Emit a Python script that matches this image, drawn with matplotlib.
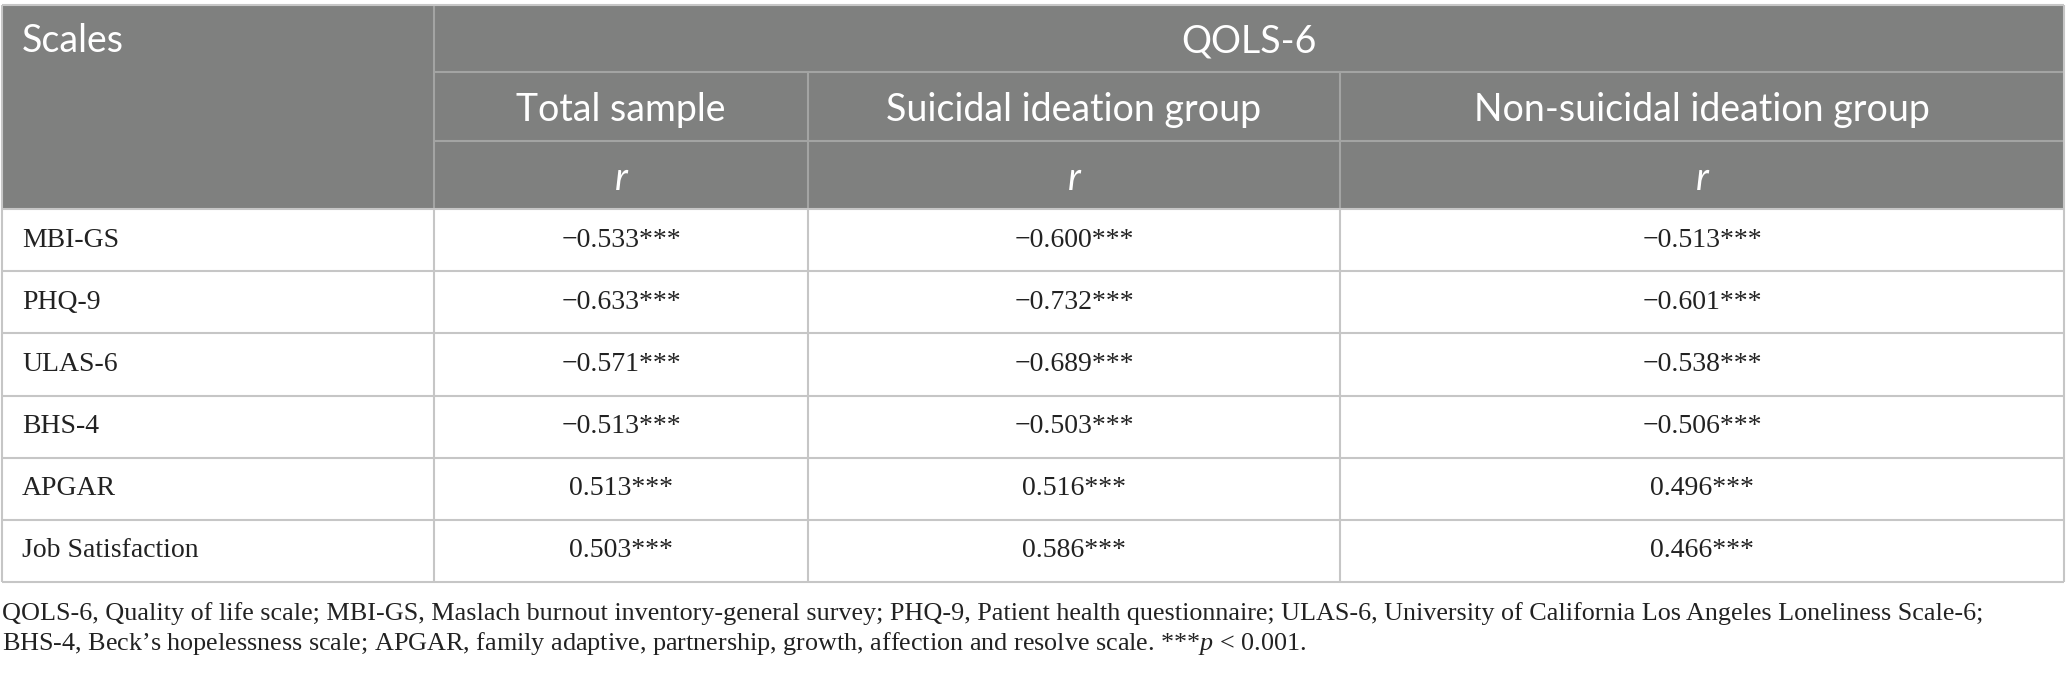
import numpy as np
import matplotlib.pyplot as plt
from matplotlib.patches import Rectangle

plt.rcParams['mathtext.fontset'] = 'custom'
plt.rcParams['mathtext.rm'] = 'Liberation Serif'
plt.rcParams['mathtext.it'] = 'Liberation Serif:italic'

# table content
scales = ['MBI-GS', 'PHQ-9', 'ULAS-6', 'BHS-4', 'APGAR', 'Job Satisfaction']
groups = ['Total sample', 'Suicidal ideation group', 'Non-suicidal ideation group']
total = [-0.533, -0.633, -0.571, -0.513, 0.513, 0.503]
suicidal = [-0.600, -0.732, -0.689, -0.503, 0.516, 0.586]
non_suicidal = [-0.513, -0.601, -0.538, -0.506, 0.496, 0.466]
stars = '***'
note1 = ('QOLS-6, Quality of life scale; MBI-GS, Maslach burnout inventory-general survey; '
         'PHQ-9, Patient health questionnaire; ULAS-6, University of California Los Angeles Loneliness Scale-6;')
note2 = ('BHS-4, Beck\u2019s hopelessness scale; APGAR, family adaptive, partnership, growth, '
         'affection and resolve scale. ***$\\mathit{p}$ < 0.001.')

W, H = 2067, 674
fig = plt.figure(figsize=(W / 100, H / 100), dpi=100)
ax = fig.add_axes([0, 0, 1, 1])
ax.set_xlim(0, W)
ax.set_ylim(H, 0)
ax.axis('off')

# layout in pixels
xs = [2, 434, 808, 1340, 2064]
hy = [5, 72, 141, 209]
by = np.linspace(209, 582, len(scales) + 1)

head_bg = '#7f807f'
head_line = '#a3a4a3'
body_line = '#c6c6c6'
lw = 1.5

ax.add_patch(Rectangle((xs[0], hy[0]), xs[-1] - xs[0], hy[-1] - hy[0],
                       facecolor=head_bg, edgecolor='none'))

# header lines
ax.hlines(hy[1], xs[1], xs[-1], color=head_line, lw=lw)
ax.hlines(hy[2], xs[1], xs[-1], color=head_line, lw=lw)
ax.vlines(xs[1], hy[0], hy[-1], color=head_line, lw=lw)
ax.vlines(xs[2:4], hy[1], hy[-1], color=head_line, lw=lw)

# body lines
ax.hlines(by, xs[0], xs[-1], color=body_line, lw=lw)
ax.vlines(xs[1:4], by[0], by[-1], color=body_line, lw=lw)
ax.vlines([xs[0], xs[-1]], hy[0], by[-1], color=body_line, lw=lw)
ax.hlines(hy[0], xs[0], xs[-1], color=body_line, lw=lw)

hfont = dict(family=['Lato', 'DejaVu Sans'], color='white', fontsize=27)
ax.text(22, 41, 'Scales', ha='left', va='center', **hfont)
ax.text((xs[1] + xs[-1]) / 2, 41, 'QOLS-6', ha='center', va='center', **hfont)
for i, g in enumerate(groups):
    cx = (xs[i + 1] + xs[i + 2]) / 2
    ax.text(cx, (hy[1] + hy[2]) / 2 + 4, g, ha='center', va='center', **hfont)
    ax.text(cx, (hy[2] + hy[3]) / 2 + 4, 'r', ha='center', va='center',
            fontstyle='italic', **hfont)

bfont = dict(family=['Liberation Serif', 'DejaVu Serif'], color='#222222', fontsize=20)
cols = [total, suicidal, non_suicidal]
for r, name in enumerate(scales):
    cy = (by[r] + by[r + 1]) / 2
    ax.text(22, cy, name, ha='left', va='center', **bfont)
    for c, vals in enumerate(cols):
        cx = (xs[c + 1] + xs[c + 2]) / 2
        s = f'{vals[r]:.3f}'.replace('-', '\u2212') + stars
        ax.text(cx, cy, s, ha='center', va='center', **bfont)

nfont = dict(family=['Liberation Serif', 'DejaVu Serif'], color='#222222', fontsize=18.8)
ax.text(2, 620, note1, ha='left', va='baseline', **nfont)
ax.text(2, 650, note2, ha='left', va='baseline', **nfont)

fig.savefig('out.png', dpi=100)
